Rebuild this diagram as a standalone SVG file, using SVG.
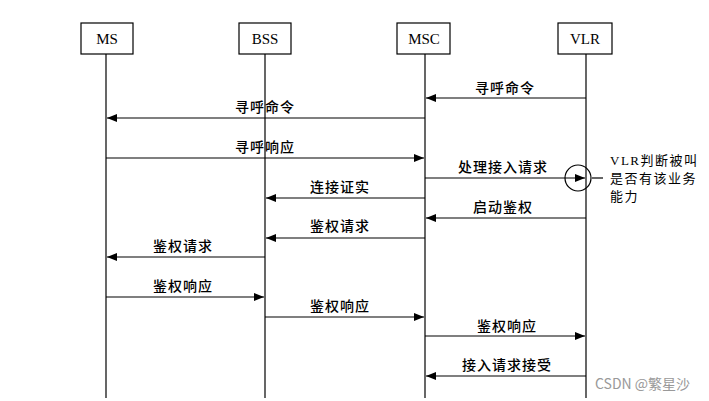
<svg xmlns="http://www.w3.org/2000/svg" width="709" height="401" viewBox="0 0 709 401">
<defs>
<marker id="ah" viewBox="0 0 10 8" refX="10" refY="4" markerWidth="10" markerHeight="8" markerUnits="userSpaceOnUse" orient="auto">
<path d="M0,0 L10,4 L0,8 Z" fill="#000"/>
</marker>
</defs>
<style>
.box{fill:#fff;stroke:#000;stroke-width:1.2}
.life{stroke:#000;stroke-width:1.2;fill:none}
.msg{stroke:#000;stroke-width:1.2;fill:none;marker-end:url(#ah)}
.nt{font-family:"Liberation Serif","Noto Sans CJK SC",serif;font-size:15px;text-anchor:middle}
.lb{font-family:"Noto Sans CJK SC",sans-serif;font-size:14px;font-weight:500;text-anchor:middle;letter-spacing:1px}
.an{font-family:"Liberation Serif","Noto Sans CJK SC",serif;font-size:13px;letter-spacing:1.5px}
</style>
<rect width="709" height="401" fill="#fff"/>
<g id="lifelines">
<line class="life" x1="106" y1="54" x2="106" y2="398"/>
<line class="life" x1="265" y1="54" x2="265" y2="398"/>
<line class="life" x1="425" y1="54" x2="425" y2="398"/>
<line class="life" x1="586" y1="54" x2="586" y2="398"/>
</g>
<g id="MS"><rect class="box" x="81" y="23" width="52" height="31"/><text class="nt" x="107" y="44">MS</text></g>
<g id="BSS"><rect class="box" x="239" y="23" width="52" height="31"/><text class="nt" x="265" y="44">BSS</text></g>
<g id="MSC"><rect class="box" x="397" y="23" width="53" height="31"/><text class="nt" x="424" y="44">MSC</text></g>
<g id="VLR"><rect class="box" x="558" y="23" width="54" height="31"/><text class="nt" x="585" y="44">VLR</text></g>
<g id="connectors">
<line class="msg" x1="586" y1="98" x2="426" y2="98"/>
<line class="msg" x1="425" y1="118" x2="107" y2="118"/>
<line class="msg" x1="106" y1="158" x2="424" y2="158"/>
<line class="msg" x1="425" y1="178" x2="585" y2="178"/>
<line class="msg" x1="425" y1="198" x2="266" y2="198"/>
<line class="msg" x1="586" y1="218" x2="426" y2="218"/>
<line class="msg" x1="425" y1="238" x2="266" y2="238"/>
<line class="msg" x1="265" y1="257" x2="107" y2="257"/>
<line class="msg" x1="106" y1="297" x2="264" y2="297"/>
<line class="msg" x1="265" y1="317" x2="424" y2="317"/>
<line class="msg" x1="425" y1="336" x2="585" y2="336"/>
<line class="msg" x1="586" y1="376" x2="426" y2="376"/>
</g>
<g id="labels">
<text class="lb" x="505" y="93">寻呼命令</text>
<text class="lb" x="265" y="112">寻呼命令</text>
<text class="lb" x="265" y="152">寻呼响应</text>
<text class="lb" x="503" y="172">处理接入请求</text>
<text class="lb" x="340" y="192">连接证实</text>
<text class="lb" x="503" y="212">启动鉴权</text>
<text class="lb" x="340" y="231">鉴权请求</text>
<text class="lb" x="183" y="251">鉴权请求</text>
<text class="lb" x="183" y="291">鉴权响应</text>
<text class="lb" x="340" y="311">鉴权响应</text>
<text class="lb" x="507" y="331">鉴权响应</text>
<text class="lb" x="507" y="370">接入请求接受</text>
</g>
<g id="note">
<circle cx="578" cy="178" r="13" fill="none" stroke="#000" stroke-width="1.2"/>
<line x1="592" y1="178" x2="603" y2="178" stroke="#000" stroke-width="1.2"/>
<text class="an" x="610" y="165">VLR判断被叫</text>
<text class="an" x="610" y="183">是否有该业务</text>
<text class="an" x="610" y="201">能力</text>
</g>
<text x="595" y="389" font-family="Noto Sans CJK SC,sans-serif" font-size="14" fill="#999">CSDN @繁星沙</text>
</svg>
